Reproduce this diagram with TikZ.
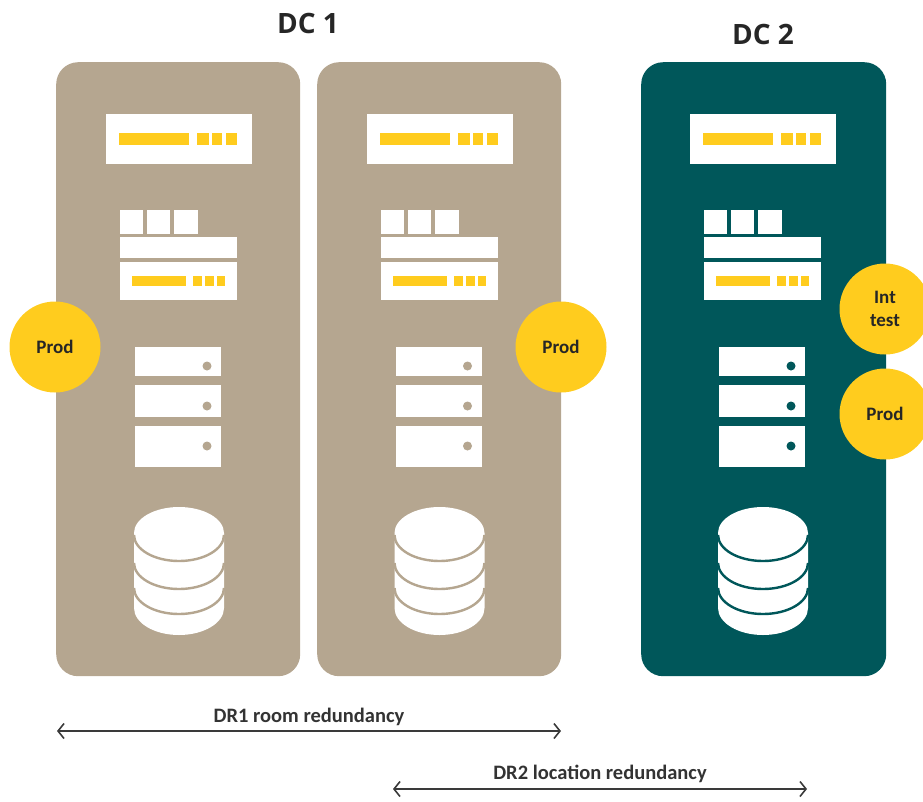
\documentclass[tikz,border=0pt]{standalone}
\usepackage{fontspec}
\setmainfont{Carlito}
\newfontfamily\headfont{Open Sans}
\usetikzlibrary{arrows.meta}
\definecolor{tan}{HTML}{B5A690}
\definecolor{teal}{HTML}{00575A}
\definecolor{gold}{HTML}{FFCC1E}
\definecolor{arrowgray}{HTML}{3A3A3A}
\tikzset{
  x=1pt,y=-1pt,
  panel/.style={draw=none,rounded corners=22pt,minimum height=614pt,anchor=north west,inner sep=0pt},
  badge/.style={circle,fill=gold,minimum size=91pt,inner sep=0pt,align=center,font=\fontsize{19}{23}\selectfont\bfseries,text=black!85},
  title/.style={font=\headfont\fontsize{28}{32}\selectfont\bfseries,text=black!85},
  label/.style={font=\fontsize{20.5}{24}\selectfont\bfseries,text=black!80},
  span/.style={draw=arrowgray,line width=1.6pt,{Straight Barb[length=6pt,width=15pt]}-{Straight Barb[length=6pt,width=15pt]}},
  wb/.style={fill=white,draw=none},
  yb/.style={fill=gold,draw=none}
}
\newcommand{\rackset}[2]{%
\begin{scope}[shift={(#1,0)}]
  \fill[wb] (106,114) rectangle (252,164);
  \fill[yb] (119,133) rectangle (189,145);
  \fill[yb] (197,133) rectangle (209,145);
  \fill[yb] (212,133) rectangle (222,145);
  \fill[yb] (226,133) rectangle (237,145);
  \fill[wb] (120,210) rectangle (143,234);
  \fill[wb] (147,210) rectangle (170,234);
  \fill[wb] (174,210) rectangle (198,234);
  \fill[wb] (120,237) rectangle (237,258);
  \fill[wb] (120,262) rectangle (237,300);
  \fill[yb] (132,276) rectangle (186,286);
  \fill[yb] (193,276) rectangle (202,286);
  \fill[yb] (205,276) rectangle (214,286);
  \fill[yb] (217,276) rectangle (225,286);
  \fill[wb] (135,347) rectangle (221,376);
  \fill[wb] (135,385) rectangle (221,417);
  \fill[wb] (135,426) rectangle (221,467);
  \fill[#2] (207,366) circle[radius=4.5];
  \fill[#2] (207,406) circle[radius=4.5];
  \fill[#2] (207,446) circle[radius=4.5];
  \fill[wb] (134,533) arc[start angle=180,end angle=0,x radius=45,y radius=-26]
        -- (224,608) arc[start angle=360,end angle=180,x radius=45,y radius=-27] -- cycle;
  \draw[#2,line width=2.4pt] (134,535) arc[start angle=180,end angle=360,x radius=45,y radius=-26];
  \draw[#2,line width=2.4pt] (134,563) arc[start angle=180,end angle=360,x radius=45,y radius=-26];
  \draw[#2,line width=2.4pt] (134,588) arc[start angle=180,end angle=360,x radius=45,y radius=-26];
\end{scope}}
\begin{document}
\begin{tikzpicture}
\useasboundingbox (0,0) rectangle (923,801);
\clip (0,0) rectangle (923,801);
\node[panel,fill=tan,minimum width=244pt] (roomA) at (56,62) {};
\node[panel,fill=tan,minimum width=244pt] (roomB) at (317,62) {};
\node[panel,fill=teal,minimum width=245pt] (roomC) at (641,62) {};
\rackset{0}{tan}
\rackset{260.5}{tan}
\rackset{584}{teal}
\node[title] (dcone) at (308,23.5) {DC 1};
\node[title] (dctwo) at (763,34.5) {DC 2};
\node[badge] (prodA) at (55,347) {Prod};
\node[badge] (prodB) at (561,347) {Prod};
\node[badge] (inttest) at (885,309) {Int\\test};
\node[badge] (prodC) at (885,414) {Prod};
\node[label] (drone) at (309,716.5) {DR1 room redundancy};
\node[label] (drtwo) at (600,773.5) {DR2 location redundancy};
\coordinate (aL) at (57,731);
\coordinate (aR) at (561,731);
\coordinate (bL) at (393,789);
\coordinate (bR) at (807,789);
\draw[span] (aL) -- (aR);
\draw[span] (bL) -- (bR);
\end{tikzpicture}
\end{document}
